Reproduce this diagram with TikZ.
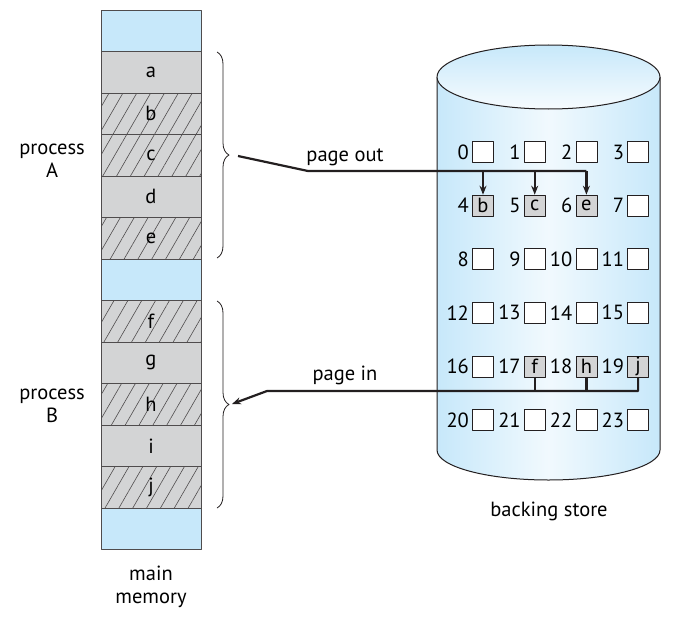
\documentclass[tikz,border=0pt]{standalone}
\usepackage{fontspec}
\setmainfont{PT Sans}
\usetikzlibrary{patterns.meta,decorations.pathreplacing,arrows.meta}
\definecolor{memblue}{HTML}{C7E8FA}
\definecolor{pagegray}{HTML}{D3D4D5}
\definecolor{ink}{HTML}{231F20}
\newcommand{\storedpage}[1]{\ifcase#1\or\or\or\or b\or c\or e\or\or\or\or\or\or\or\or\or\or\or f\or h\or j\else\fi}
\tikzset{
  memblock/.style={draw=ink!80, line width=0.8pt, minimum width=100pt, minimum height=41.5pt, inner sep=0pt},
  memfree/.style={fill=memblue},
  memused/.style={fill=pagegray},
  memswap/.style={preaction={fill=pagegray}, pattern={Lines[angle=60,distance=12pt,line width=0.6pt]}, pattern color=ink!80},
  freeslot/.style={draw=ink, line width=0.8pt, fill=white, minimum size=21pt, inner sep=0pt},
  pageslot/.style={freeslot, fill=pagegray},
  conn/.style={draw=ink, line width=2.2pt},
}
\begin{document}
\begin{tikzpicture}[x=1pt, y=-1pt, font=\fontsize{20.5}{23}\selectfont, line join=round, >={Stealth[length=9pt,width=7pt]}]
  \useasboundingbox (0,0) rectangle (676,618);
  % main memory
  \foreach \t/\kind [count=\i from 0] in {/memfree,a/memused,b/memswap,c/memswap,d/memused,e/memswap,/memfree,f/memswap,g/memused,h/memswap,i/memused,j/memswap,/memfree}
    \node[memblock, \kind] (m\i) at (151, {30.75+41.5*\i}) {\t};
  \node[align=center] (procA) at (52,161) {process\\A};
  \node[align=center] (procB) at (52,406) {process\\B};
  \node[align=center] (mainmem) at (151,587) {main\\memory};
  % braces
  \draw[ink, line width=0.8pt, decorate, decoration={brace, amplitude=12pt}] (217,52) -- (217,258);
  \draw[ink, line width=0.8pt, decorate, decoration={brace, amplitude=12pt}] (217,301) -- (217,508);
  % backing store
  \shade[left color=memblue, right color=memblue, middle color=memblue!25]
    (437,77) -- (437,450) arc[start angle=180, end angle=360, x radius=111.5pt, y radius=30pt] -- (660,77) -- cycle;
  \draw[ink, line width=1pt] (437,77) -- (437,450) arc[start angle=180, end angle=360, x radius=111.5pt, y radius=30pt] -- (660,77);
  \shade[top color=memblue, bottom color=memblue!15, draw=ink, line width=1pt] (548.5,77) ellipse [x radius=111.5pt, y radius=32pt];
  \node (backing) at (549,511) {backing store};
  \foreach \r in {0,...,5}{
    \foreach \c in {0,...,3}{
      \pgfmathtruncatemacro\n{4*\r+\c}
      \pgfmathtruncatemacro\used{or(and(\n>3,\n<7),and(\n>16,\n<20))}
      \ifnum\used=1 \def\slotstyle{pageslot}\else\def\slotstyle{freeslot}\fi
      \node[\slotstyle] (s\n) at ({483+51.7*\c},{152+53.6*\r}) {\storedpage{\n}};
      \node[anchor=east, inner sep=0pt] (n\n) at ([xshift=-3pt]s\n.west) {\n};
    }
  }
  % page out
  \coordinate (outA) at (238,156);
  \coordinate (kinkA) at (308,171);
  \draw[conn] (outA) -- (kinkA) -- (kinkA -| s6);
  \foreach \k in {4,5,6}
    \draw[conn, ->] (kinkA -| s\k) -- (s\k.north);
  \node (pageout) at (345,157) {page out};
  % page in
  \coordinate (kinkB) at (267,391);
  \coordinate (inB) at (232,404);
  \draw[conn, ->] (s19.south) |- (kinkB) -- (inB);
  \foreach \k in {17,18}
    \draw[conn] (s\k.south) -- (s\k |- kinkB);
  \node (pagein) at (345,375) {page in};
\end{tikzpicture}
\end{document}
